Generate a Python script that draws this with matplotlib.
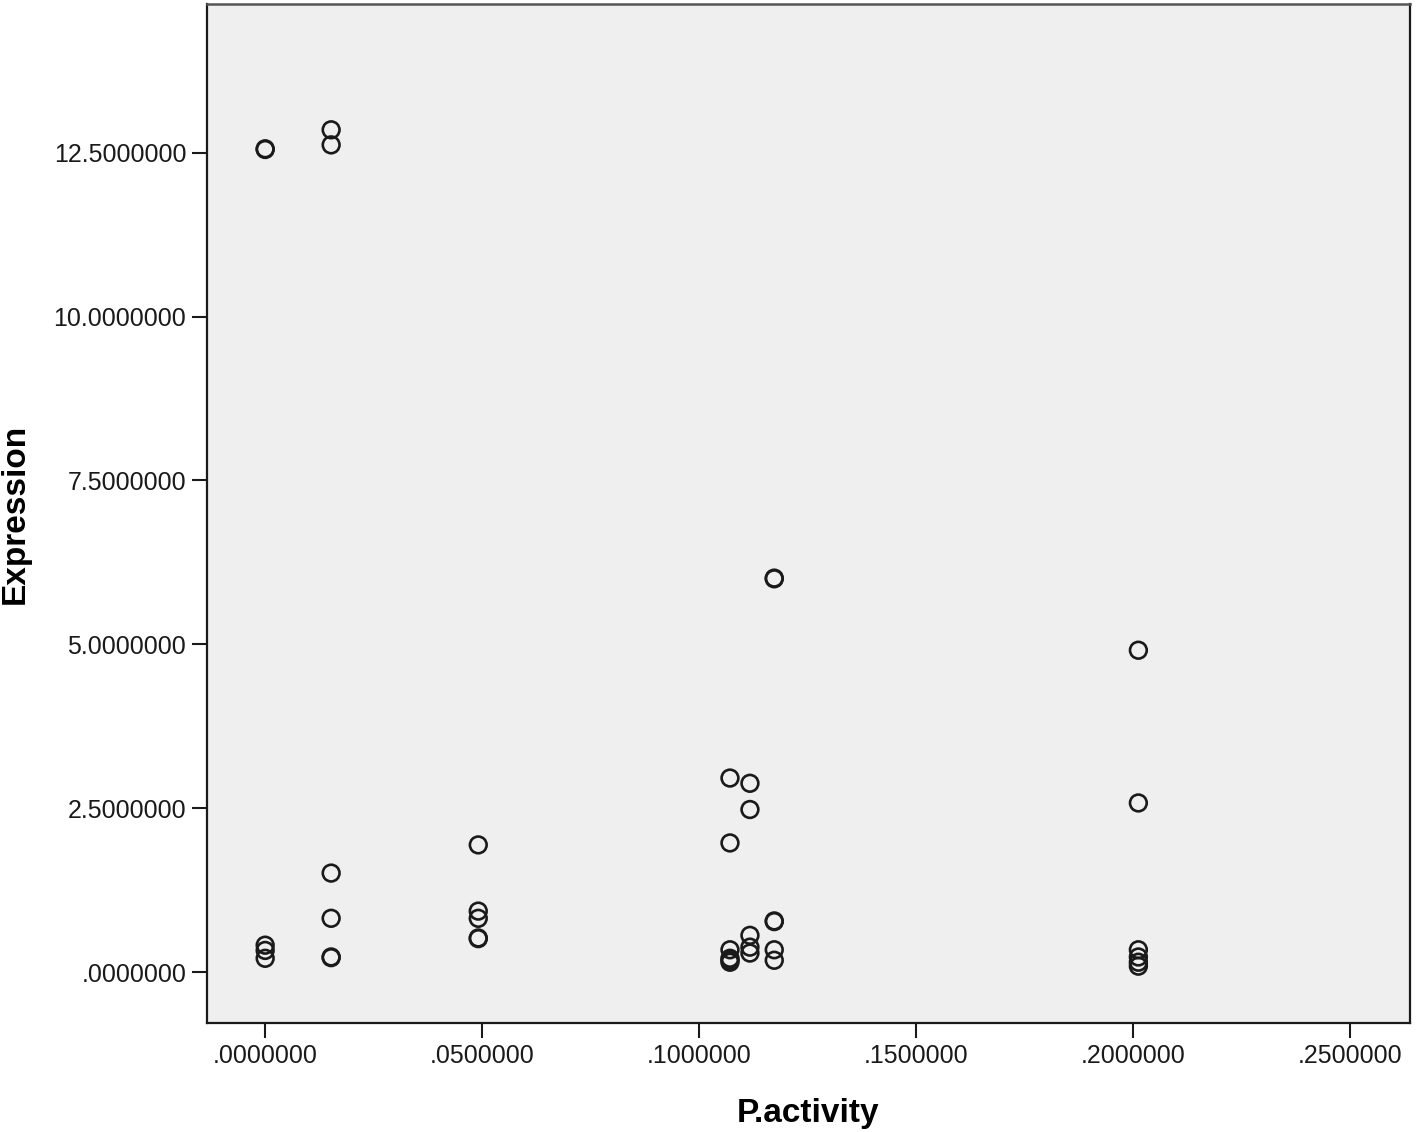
import matplotlib
matplotlib.use("Agg")
import matplotlib.pyplot as plt
import numpy as np

# data (P.activity vs Expression)
p_activity = [
    0.0000, 0.0000, 0.0000, 0.0000, 0.0000,
    0.0152, 0.0152, 0.0152, 0.0152, 0.0152, 0.0152,
    0.0491, 0.0491, 0.0491, 0.0491, 0.0491,
    0.1071, 0.1071, 0.1071, 0.1071, 0.1071, 0.1071,
    0.1117, 0.1117, 0.1117, 0.1117, 0.1117,
    0.1173, 0.1173, 0.1173, 0.1173, 0.1173, 0.1173,
    0.2012, 0.2012, 0.2012, 0.2012, 0.2012, 0.2012,
]
expression = [
    12.56, 12.55, 0.41, 0.33, 0.21,
    12.85, 12.62, 1.51, 0.82, 0.23, 0.22,
    1.94, 0.93, 0.82, 0.52, 0.51,
    2.96, 1.97, 0.34, 0.21, 0.15, 0.18,
    2.88, 2.48, 0.56, 0.38, 0.29,
    6.01, 6.00, 0.78, 0.77, 0.34, 0.18,
    4.91, 2.58, 0.34, 0.23, 0.15, 0.09,
]

x_ticks = [0.0, 0.05, 0.10, 0.15, 0.20, 0.25]
y_ticks = [0.0, 2.5, 5.0, 7.5, 10.0, 12.5]

plt.rcParams["font.family"] = ["Liberation Sans", "DejaVu Sans"]

fig = plt.figure(figsize=(14.16, 11.32), dpi=100)
ax = fig.add_axes([0.1462, 0.0963, 0.8496, 0.9002])
ax.set_facecolor("#efefef")

ax.scatter(p_activity, expression, s=145, facecolors="none",
           edgecolors="#1a1a1a", linewidths=1.9, zorder=3)

ax.set_xlim(-0.0134, 0.2638)
ax.set_ylim(-0.777, 14.77)
ax.set_xticks(x_ticks)
ax.set_yticks(y_ticks)
ax.set_xticklabels([("%.7f" % v).lstrip("0") for v in x_ticks])
ax.set_yticklabels([("%.7f" % v).lstrip("0") if v < 1 else "%.7f" % v for v in y_ticks])
ax.tick_params(axis="both", direction="out", length=11, width=1.5,
               labelsize=18, colors="#1a1a1a", pad=4)

for side in ["left", "bottom", "right"]:
    ax.spines[side].set_linewidth(1.6)
    ax.spines[side].set_color("#1a1a1a")
ax.spines["top"].set_linewidth(1.8)
ax.spines["top"].set_color("#555555")

ax.set_xlabel("P.activity", fontsize=24, fontweight="bold", labelpad=22)
ax.set_ylabel("Expression", fontsize=24, fontweight="bold", labelpad=16)

fig.savefig("out.png", dpi=100)
